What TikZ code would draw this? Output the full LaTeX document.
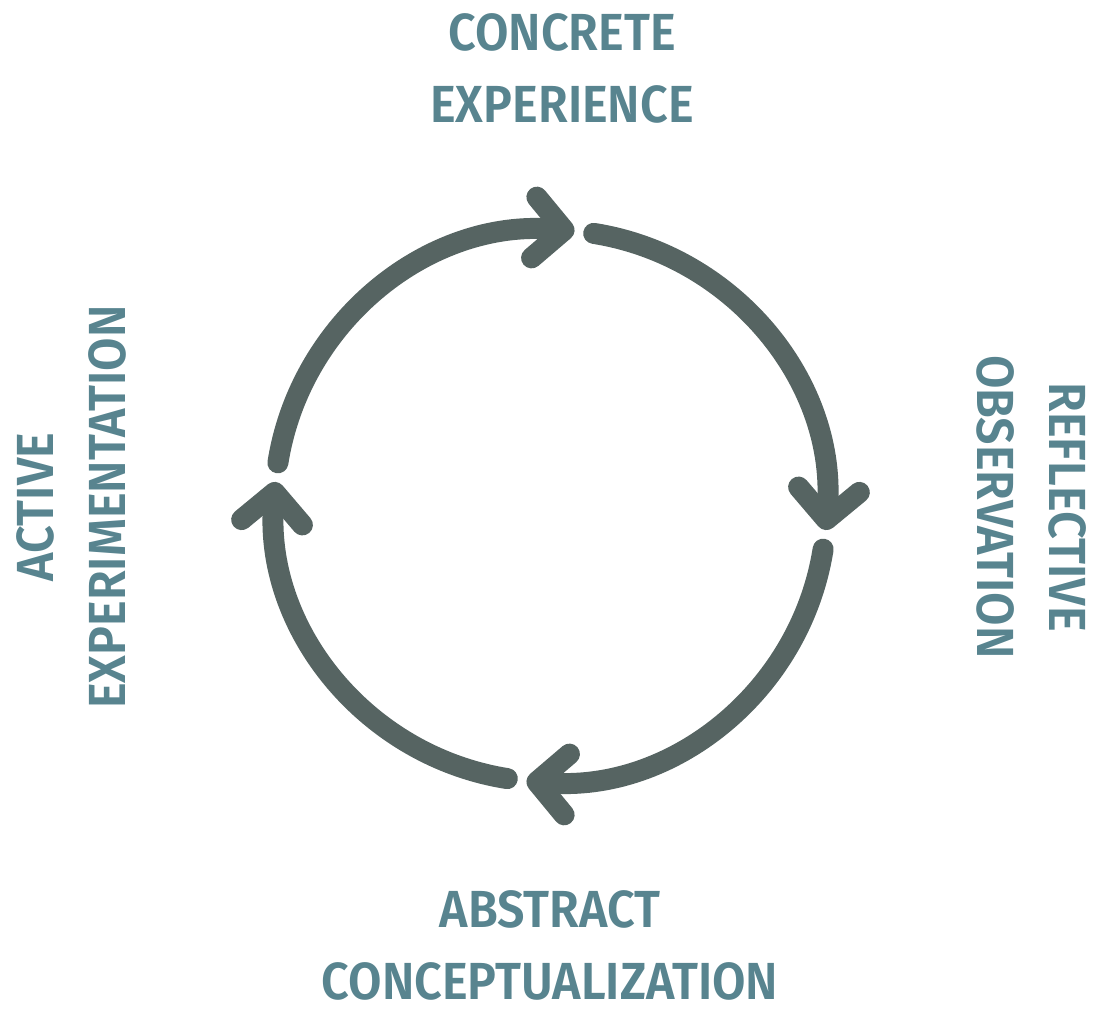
\documentclass[tikz,border=0pt]{standalone}
\usepackage{fontspec}
\newfontfamily\labelfont{Fira Sans SemiBold}[FakeStretch=0.93]
\usetikzlibrary{arrows.meta}
\definecolor{arcgrey}{RGB}{86,100,98}
\definecolor{labelteal}{RGB}{88,132,143}
\begin{document}
\begin{tikzpicture}[x=0.02cm,y=0.02cm,
  stage/.style={align=center,inner sep=0pt,text=labelteal,
    font=\labelfont\fontsize{29.7}{41}\selectfont},
  cyclearc/.style={draw=arcgrey,line width=0.42cm,line cap=round,
    -{Straight Barb[length=0.6cm,width=1.22cm,round]}}]
\useasboundingbox (0,0) rectangle (1097,1010);
\coordinate (c) at (550.5,504);
\node[stage] (ce) at (562,942) {CONCRETE\\EXPERIENCE};
\node[stage,rotate=-90] (ro) at (1031.5,503) {REFLECTIVE\\OBSERVATION};
\node[stage] (ac) at (550,65) {ABSTRACT\\CONCEPTUALIZATION};
\node[stage,rotate=90] (ae) at (71,503) {ACTIVE\\EXPERIMENTATION};
\draw[cyclearc] (c) ++(171:276) arc[start angle=171,end angle=85,radius=276];
\draw[cyclearc] (c) ++(81:276) arc[start angle=81,end angle=-5,radius=276];
\draw[cyclearc] (c) ++(-9:276) arc[start angle=-9,end angle=-95,radius=276];
\draw[cyclearc] (c) ++(-99:276) arc[start angle=-99,end angle=-185,radius=276];
\end{tikzpicture}
\end{document}
